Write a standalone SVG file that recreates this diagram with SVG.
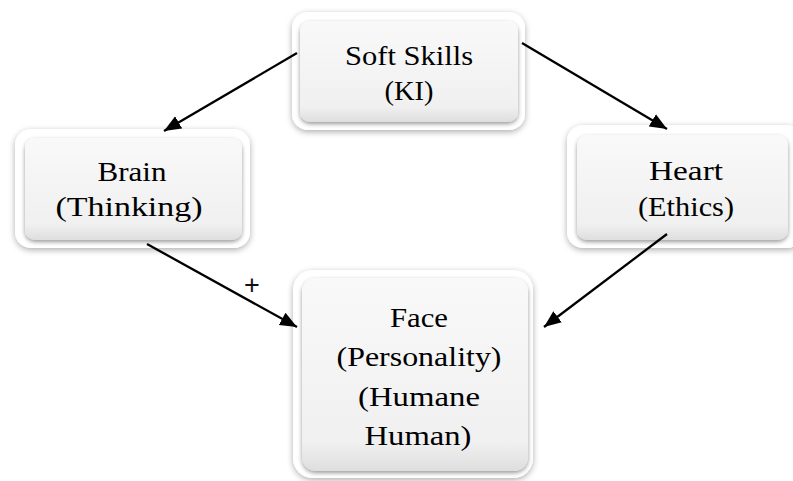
<svg xmlns="http://www.w3.org/2000/svg" width="793" height="481" viewBox="0 0 793 481">
<style>
.frame{fill:#ffffff;filter:url(#fs);}
.inner{fill:url(#g);filter:url(#is);}
.t{font-family:"Liberation Serif","Times New Roman",serif;font-size:28px;fill:#000;text-anchor:middle;}
.c{stroke:#000;stroke-width:2.3;fill:none;marker-end:url(#ah);}
.plus{font-family:"Liberation Sans",Arial,sans-serif;font-size:27px;fill:#111;text-anchor:middle;}
</style>
<defs>
<linearGradient id="g" x1="0" y1="0" x2="0" y2="1">
<stop offset="0" stop-color="#f9f9f9"/>
<stop offset="0.85" stop-color="#f0f0f0"/>
<stop offset="1" stop-color="#dedede"/>
</linearGradient>
<filter id="fs" x="-10%" y="-10%" width="120%" height="125%">
<feDropShadow dx="0" dy="2" stdDeviation="3" flood-color="#000" flood-opacity="0.32"/>
</filter>
<filter id="is" x="-10%" y="-10%" width="120%" height="125%">
<feDropShadow dx="0" dy="2" stdDeviation="2" flood-color="#000" flood-opacity="0.4"/>
</filter>
<marker id="ah" markerWidth="18" markerHeight="16" refX="17" refY="8" orient="auto" markerUnits="userSpaceOnUse" viewBox="0 0 18 16">
<path d="M0,1 L17,8 L0,15 z" fill="#000"/>
</marker>
</defs>
<g id="soft-skills">
<rect class="frame" x="292" y="12" width="233" height="118" rx="16"/>
<rect class="inner" x="300" y="21" width="218" height="101" rx="10"/>
<text class="t" x="409" y="65" textLength="128" lengthAdjust="spacingAndGlyphs">Soft Skills</text>
<text class="t" x="409" y="100" textLength="49" lengthAdjust="spacingAndGlyphs">(KI)</text>
</g>
<g id="brain">
<rect class="frame" x="15" y="129" width="235" height="119" rx="16"/>
<rect class="inner" x="25" y="138" width="217" height="102" rx="10"/>
<text class="t" x="132" y="181" textLength="69" lengthAdjust="spacingAndGlyphs">Brain</text>
<text class="t" x="129" y="216" textLength="147" lengthAdjust="spacingAndGlyphs">(Thinking)</text>
</g>
<g id="heart">
<rect class="frame" x="567" y="125" width="236" height="123" rx="16"/>
<rect class="inner" x="577" y="135" width="211" height="105" rx="10"/>
<text class="t" x="686" y="180" textLength="74" lengthAdjust="spacingAndGlyphs">Heart</text>
<text class="t" x="686" y="216" textLength="96" lengthAdjust="spacingAndGlyphs">(Ethics)</text>
</g>
<g id="face">
<rect class="frame" x="293" y="270" width="240" height="208" rx="20"/>
<rect class="inner" x="302" y="278" width="226" height="193" rx="14"/>
<text class="t" x="419" y="327" textLength="58" lengthAdjust="spacingAndGlyphs">Face</text>
<text class="t" x="419" y="366" textLength="165" lengthAdjust="spacingAndGlyphs">(Personality)</text>
<text class="t" x="419" y="406" textLength="122" lengthAdjust="spacingAndGlyphs">(Humane</text>
<text class="t" x="418" y="445" textLength="107" lengthAdjust="spacingAndGlyphs">Human)</text>
</g>
<g id="connectors">
<line class="c" x1="297" y1="53" x2="164" y2="131"/>
<line class="c" x1="522" y1="43" x2="667" y2="129"/>
<line class="c" x1="147" y1="244" x2="297" y2="327"/>
<line class="c" x1="667" y1="234" x2="544" y2="327"/>
<text class="plus" x="252" y="294">+</text>
</g>
</svg>
